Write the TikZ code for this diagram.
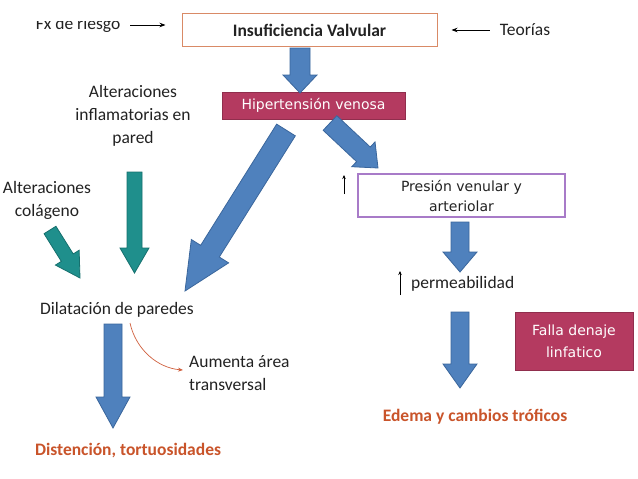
\documentclass[tikz,border=0pt]{standalone}
\usepackage{fontspec}
\setmainfont{Carlito}
\newfontfamily\dvs{DejaVu Sans}
\usetikzlibrary{calc,arrows.meta}
\definecolor{bluefill}{HTML}{4F81BD}
\definecolor{blueline}{HTML}{3A669C}
\definecolor{tealfill}{HTML}{1F8F8C}
\definecolor{tealline}{HTML}{16706E}
\definecolor{maroon}{HTML}{B43A60}
\definecolor{violetb}{HTML}{A87BC8}
\definecolor{orangeb}{HTML}{D98A66}
\definecolor{orangetxt}{HTML}{C9542A}
\definecolor{curvecol}{HTML}{D0603E}
\definecolor{txt}{HTML}{222222}
% block arrow: #1 style, #2 start, #3 tip, #4 shaft half width, #5 head half width, #6 head length
\newcommand\blockarr[6]{%
  \coordinate (bh) at ($#3!#6!#2$);
  \draw[#1] ($#2!#4!90:#3$) -- ($(bh)!#4!-90:#2$) -- ($(bh)!#5!-90:#2$) -- #3
    -- ($(bh)!#5!90:#2$) -- ($(bh)!#4!90:#2$) -- ($#2!#4!-90:#3$) -- cycle;}
\begin{document}
\begin{tikzpicture}[x=1pt,y=-1pt,
  lbl/.style={text=txt,font=\fontsize{17.5}{23}\selectfont,align=center,inner sep=0pt},
  thinarr/.style={draw=black,line width=0.8pt,-{Stealth[length=6pt,width=4.5pt]}},
  bluearr/.style={fill=bluefill,draw=blueline,line width=0.8pt,line join=miter},
  tealarr/.style={fill=tealfill,draw=tealline,line width=0.8pt,line join=miter},
  maroonbox/.style={fill=maroon,draw=maroon!80!black,line width=0.6pt,text=white,font=\dvs\fontsize{14}{22}\selectfont,align=center,inner sep=2pt},
  outcome/.style={text=orangetxt,font=\bfseries\fontsize{17.5}{20}\selectfont,inner sep=0pt}]
\useasboundingbox[fill=white] (0,0) rectangle (638,479);

% top row
\node[lbl] (fx) at (78,25) {Fx de riesgo};
\fill[white] (20,0) rectangle (140,20.5);
\node[draw=orangeb,line width=1pt,minimum width=255pt,minimum height=33pt,text=txt,
      font=\bfseries\fontsize{17.5}{20}\selectfont] (iv) at (309.5,30) {Insuficiencia Valvular};
\node[lbl] (teo) at (525,30) {Teorías};
\draw[thinarr,shorten <=10pt,shorten >=16pt] (fx.east) -- (iv.west |- fx.east);
\draw[thinarr,shorten <=10pt,shorten >=14pt] (teo.west) -- (iv.east |- teo.west);

% hipertension
\node[maroonbox,minimum width=183pt,minimum height=27pt] (hv) at (313.5,105.5) {Hipertensión venosa};
\coordinate (a1s) at (300,48); \coordinate (a1t) at (300,93);
\blockarr{bluearr}{(a1s)}{(a1t)}{10pt}{17pt}{18pt}

% left branch
\node[lbl] (inf) at (133,116) {Alteraciones\\inflamatorias en\\pared};
\node[lbl] (col) at (47,200) {Alteraciones\\colágeno};
\node[lbl] (dil) at (117,310) {Dilatación de paredes};
\node[lbl,align=left,anchor=west] (aum) at (189,373.5) {Aumenta área\\transversal};
\node[outcome] (dis) at (128,451) {Distención, tortuosidades};

\coordinate (a2s) at (286,130); \coordinate (a2t) at (185,291);
\blockarr{bluearr}{(a2s)}{(a2t)}{11pt}{22pt}{47pt}
\coordinate (t1s) at (134.5,172); \coordinate (t1t) at (134.5,273);
\blockarr{tealarr}{(t1s)}{(t1t)}{7.5pt}{14.5pt}{25pt}
\coordinate (t2s) at (50,230); \coordinate (t2t) at (80,278);
\blockarr{tealarr}{(t2s)}{(t2t)}{7pt}{14pt}{24pt}
\coordinate (a4s) at (113,324); \coordinate (a4t) at (113,428);
\blockarr{bluearr}{(a4s)}{(a4t)}{9pt}{17pt}{31pt}
\coordinate (cs) at (130,323); \coordinate (ce) at (183,370);
\draw[draw=curvecol,line width=0.7pt,-{Stealth[length=5pt,width=4pt]}] (cs) .. controls (136,350) and (158,368) .. (ce);

% right branch
\node[draw=violetb,line width=1.5pt,minimum width=207pt,minimum height=43pt,text=txt,
      font=\dvs\fontsize{14}{20}\selectfont,align=center] (pv) at (461.5,195.5) {Presión venular y\\arteriolar};
\coordinate (a3s) at (330,123); \coordinate (a3t) at (378,168);
\blockarr{bluearr}{(a3s)}{(a3t)}{10pt}{17pt}{20pt}
\coordinate (u1s) at (344,194); \coordinate (u1t) at (344,175);
\draw[thinarr,line width=0.6pt,-{Stealth[length=4pt,width=3.5pt]}] (u1s) -- (u1t);

\node[lbl,anchor=west] (perm) at (411,284) {permeabilidad};
\coordinate (u2s) at (400,295); \coordinate (u2t) at (400,271);
\draw[thinarr,line width=0.6pt,-{Stealth[length=4pt,width=3.5pt]}] (u2s) -- (u2t);
\coordinate (a5s) at (460,222); \coordinate (a5t) at (460,272);
\blockarr{bluearr}{(a5s)}{(a5t)}{9pt}{17pt}{20pt}
\coordinate (a6s) at (460,312); \coordinate (a6t) at (460,388);
\blockarr{bluearr}{(a6s)}{(a6t)}{9pt}{17pt}{24pt}

\node[maroonbox,minimum width=118pt,minimum height=58pt] (fal) at (574,341) {Falla denaje\\linfatico};
\node[outcome] (ede) at (475,417) {Edema y cambios tróficos};
\end{tikzpicture}
\end{document}
